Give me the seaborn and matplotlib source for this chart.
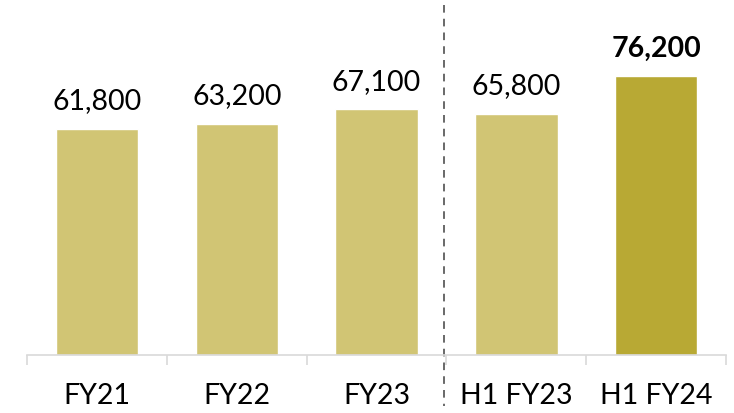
import matplotlib
matplotlib.use("Agg")
import matplotlib.pyplot as plt
import matplotlib.transforms as mtransforms
import numpy as np
import pandas as pd
import seaborn as sns

categories = ["FY21", "FY22", "FY23", "H1 FY23", "H1 FY24"]
values = [61800, 63200, 67100, 65800, 76200]
bar_colors = ["#D1C574", "#D1C574", "#D1C574", "#D1C574", "#B8A934"]
label_bold = [False, False, False, False, True]

sns.set_theme(style="white")
plt.rcParams["font.family"] = ["Lato", "DejaVu Sans"]

df = pd.DataFrame({"period": categories, "value": values})

fig = plt.figure(figsize=(7.34, 4.13), dpi=100)
ax = fig.add_axes([0.037, 0.1404, 0.952, 0.8596])

sns.barplot(data=df, x="period", y="value", hue="period", palette=bar_colors,
            width=0.59, legend=False, ax=ax, saturation=1)

for i, v in enumerate(values):
    ax.text(i, v + 5400, f"{v:,}", ha="center", va="baseline", fontsize=20.5,
            fontweight="bold" if label_bold[i] else "normal", color="black")

ax.set_xlim(-0.5, len(categories) - 0.5)
ax.set_ylim(0, 97000)
ax.set_yticks([])
ax.set_xlabel("")
ax.set_ylabel("")
for s in ["top", "right", "left"]:
    ax.spines[s].set_visible(False)
ax.spines["bottom"].set_color("#D9D9D9")
ax.spines["bottom"].set_linewidth(1.2)

ax.set_xticks(np.arange(len(categories)))
ax.set_xticklabels(categories, fontsize=20.5, color="black")
ax.set_xticks(np.arange(-0.5, len(categories)), minor=True)
ax.tick_params(axis="x", which="major", bottom=True, length=0, pad=20)
ax.tick_params(axis="x", which="minor", bottom=True, length=7, width=1.2,
               color="#D9D9D9", direction="out")

# dashed divider between full years and half years
trans = mtransforms.blended_transform_factory(ax.transData, ax.transAxes)
ax.plot([2.48, 2.48], [0.985, -0.145], transform=trans, color="#404040",
        linestyle=(0, (5, 4)), linewidth=1.1, clip_on=False)

fig.savefig("out.png", dpi=100)
